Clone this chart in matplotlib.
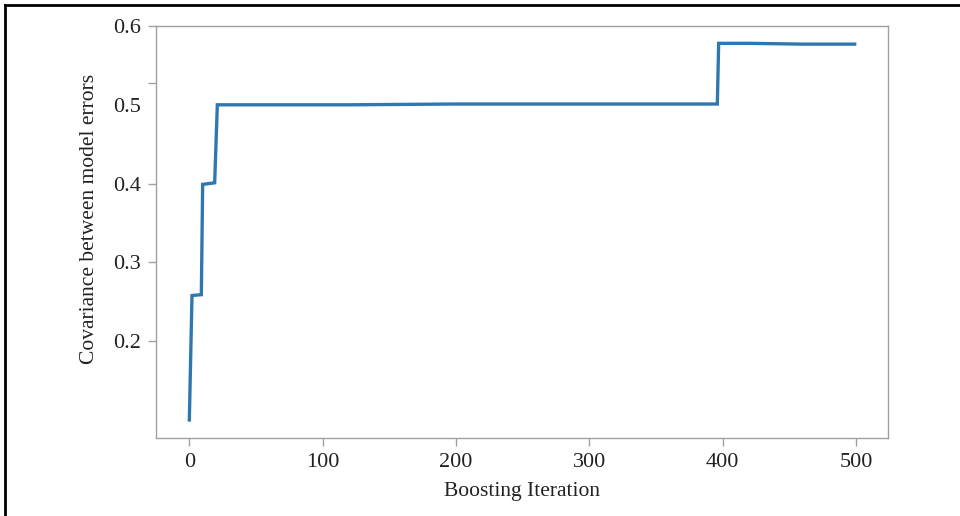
import matplotlib.pyplot as plt
from matplotlib.lines import Line2D

plt.rcParams['font.family'] = ['Liberation Serif', 'DejaVu Serif']

# boosting iteration vs covariance between model errors
iterations = [0, 2, 9, 10, 19, 21, 50, 120, 200, 280, 350, 396, 397, 420, 460, 499]
covariance = [0.100, 0.258, 0.259, 0.399, 0.401, 0.500, 0.500, 0.500, 0.501, 0.501,
              0.501, 0.501, 0.578, 0.578, 0.577, 0.577]

x_ticks = [0, 100, 200, 300, 400, 500]
y_ticks = [0.2, 0.3, 0.4, 0.5, 0.6]

fig = plt.figure(figsize=(9.6, 5.16), dpi=100)
ax = fig.add_axes([0.1625, 0.151, 0.7625, 0.7986])

ax.plot(iterations, covariance, color='#2f77b1', linewidth=2.4, solid_joinstyle='miter')

ax.set_xlim(-25, 524)
ax.set_ylim(0.077, 0.6)
ax.set_xticks(x_ticks)
ax.set_yticks(y_ticks)
ax.set_yticklabels([str(t) for t in y_ticks])
# the original shows an odd extra tick above 0.5 and no tick mark at 0.5
ax.set_yticks([0.528], minor=True)
ax.yaxis.get_major_ticks()[3].tick1line.set_visible(False)

for s in ax.spines.values():
    s.set_color('#a0a0a0')
    s.set_linewidth(1.0)
ax.tick_params(which='both', colors='#a0a0a0', labelcolor='#222222', labelsize=16,
               length=6, width=1.0)
ax.tick_params(axis='y', which='minor', length=6)
ax.tick_params(axis='x', pad=5)
ax.tick_params(axis='y', pad=5)

ax.set_xlabel('Boosting Iteration', fontsize=15.5, color='#222222', labelpad=7)
ax.set_ylabel('Covariance between model errors', fontsize=15.5, color='#222222')
ax.yaxis.set_label_coords(-0.078, 0.532)

# black frame on the top and left edges of the cropped picture
fig.add_artist(Line2D([5 / 960, 1], [1 - 5 / 516, 1 - 5 / 516], transform=fig.transFigure,
                      color='black', linewidth=2))
fig.add_artist(Line2D([5 / 960, 5 / 960], [0, 1 - 5 / 516], transform=fig.transFigure,
                      color='black', linewidth=2))

fig.savefig('out.png', dpi=100)
